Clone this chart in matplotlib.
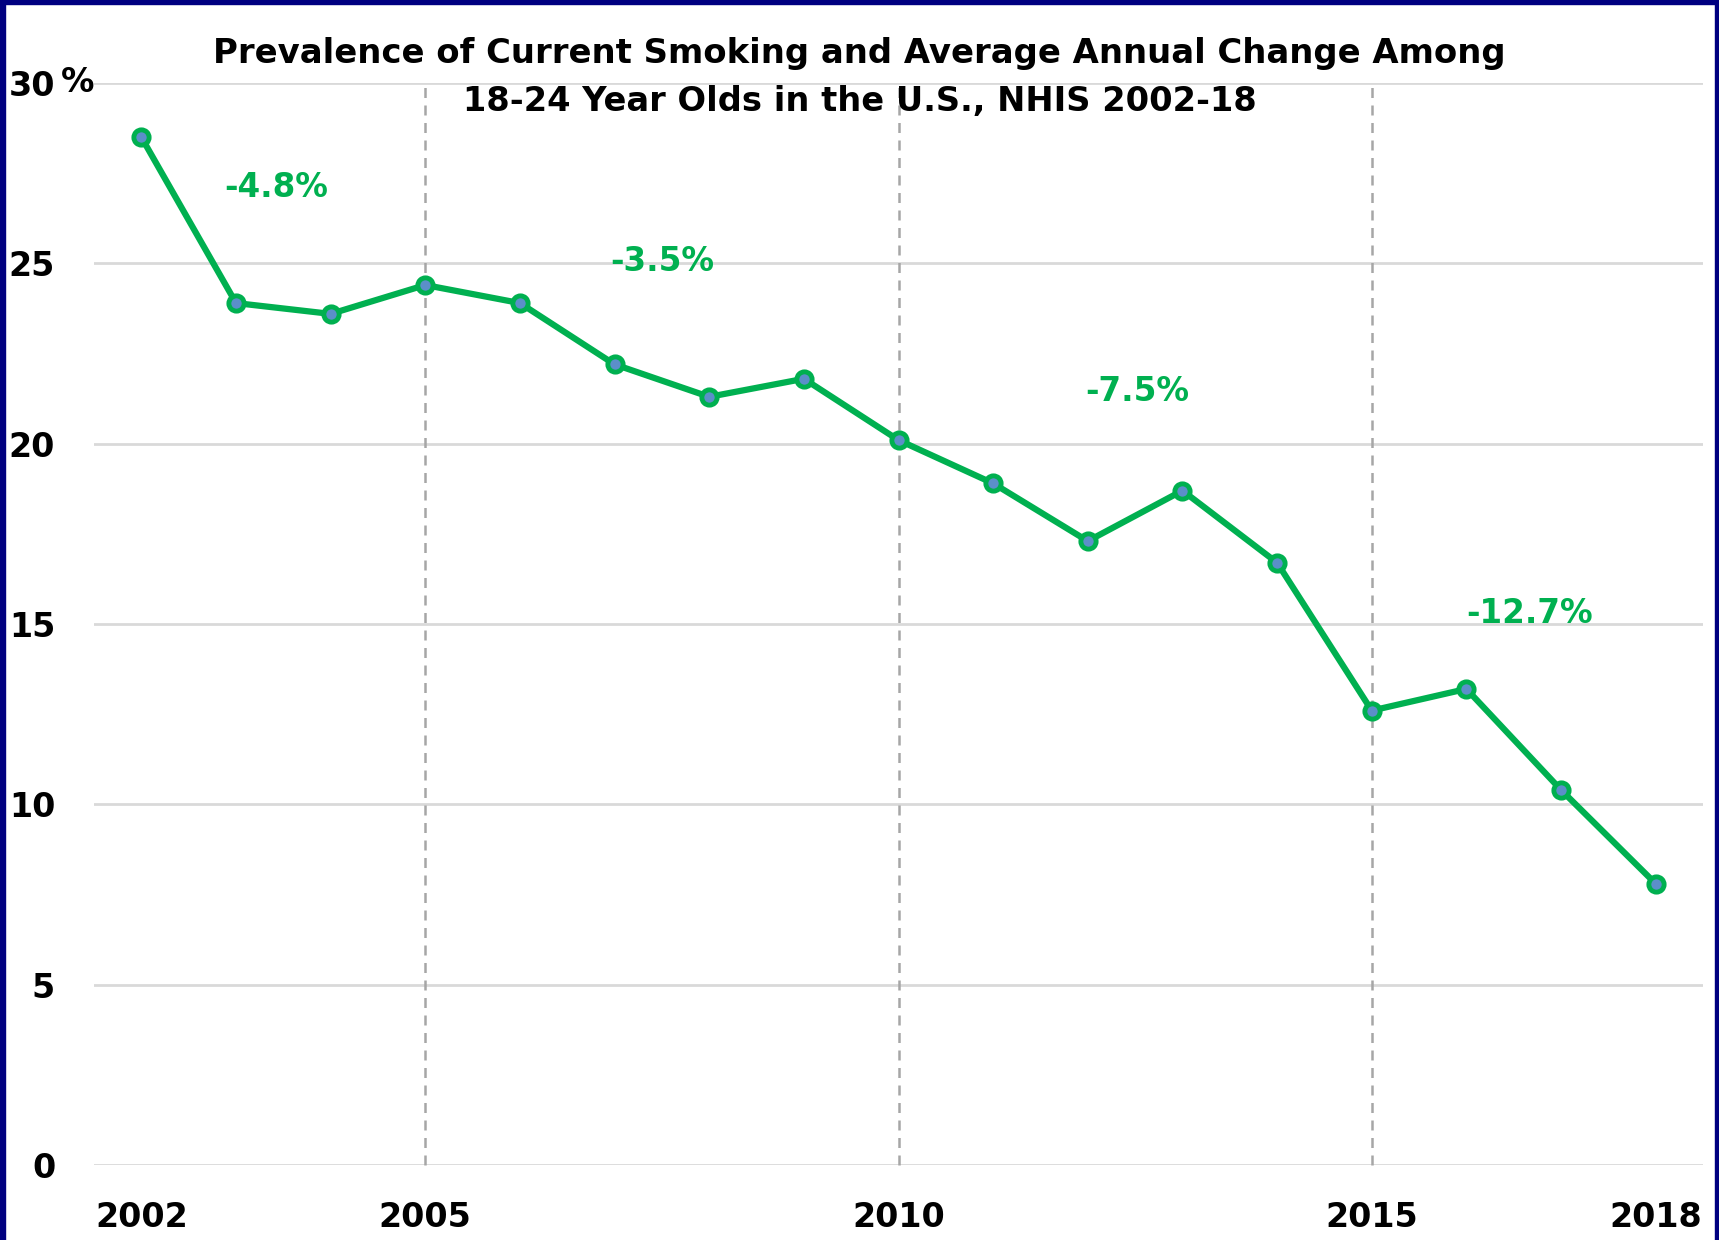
import numpy as np
import matplotlib.pyplot as plt
from matplotlib.patches import Rectangle

# --- dados ---
anos = [2002, 2003, 2004, 2005, 2006, 2007, 2008, 2009, 2010,
        2011, 2012, 2013, 2014, 2015, 2016, 2017, 2018]
prevalencia = [28.5, 23.9, 23.6, 24.4, 23.9, 22.2, 21.3, 21.8, 20.1,
               18.9, 17.3, 18.7, 16.7, 12.6, 13.2, 10.4, 7.8]

rotulos_mudanca = ["-4.8%", "-3.5%", "-7.5%", "-12.7%"]
x_mudanca = [2003.42, 2007.5, 2012.52, 2016.67]
y_mudanca = [27.1, 25.05, 21.45, 15.3]

anos_divisao = [2005, 2010, 2015]
ticks_x = [2002, 2005, 2010, 2015, 2018]
ticks_y = [0, 5, 10, 15, 20, 25, 30]

verde = "#00B050"
fonte = "DejaVu Sans"

fig = plt.figure(figsize=(17.19, 12.40), dpi=100)
ax = fig.add_axes([0.0547, 0.0605, 0.936, 0.8725])

for a in anos_divisao:
    ax.axvline(a, color="#a6a6a6", lw=1.8, ls=(0, (4, 3)), zorder=1, clip_on=False)

ax.plot(anos, prevalencia, color=verde, lw=4.5, marker="o", markersize=11,
        markerfacecolor="#5b8fc9", markeredgecolor=verde, markeredgewidth=3.5, zorder=3)

for txt, xx, yy in zip(rotulos_mudanca, x_mudanca, y_mudanca):
    ax.text(xx, yy, txt, color=verde, fontsize=23.5, fontweight="bold",
            family=fonte, ha="center", va="center", zorder=4)

ax.set_xlim(2001.5, 2018.5)
ax.set_ylim(0, 30)
ax.set_xticks(ticks_x)
ax.set_xticklabels([str(t) for t in ticks_x])
ax.set_yticks(ticks_y)
ax.set_yticklabels([str(t) for t in ticks_y])
ax.tick_params(axis="both", length=0, labelsize=24)
ax.tick_params(axis="y", pad=28)
ax.tick_params(axis="x", pad=26)
for lab in ax.get_xticklabels() + ax.get_yticklabels():
    lab.set_fontweight("bold")
    lab.set_family(fonte)

ax.grid(axis="y", color="#d9d9d9", lw=2)
ax.set_axisbelow(True)
for s in ax.spines.values():
    s.set_visible(False)

# % ao lado do 30
fig.text(0.0355, 0.9335, "%", fontsize=24, fontweight="bold", family=fonte,
         ha="left", va="center")

fig.text(0.5, 0.957, "Prevalence of Current Smoking and Average Annual Change Among",
         fontsize=24.4, fontweight="bold", family=fonte, ha="center", va="center", zorder=5)
fig.text(0.5, 0.918, "18-24 Year Olds in the U.S., NHIS 2002-18",
         fontsize=24.2, fontweight="bold", family=fonte, ha="center", va="center", zorder=5)

# borda azul
azul = "#000080"
fig.patches.append(Rectangle((0, 0), 0.003, 1, transform=fig.transFigure, color=azul))
fig.patches.append(Rectangle((0, 0.997), 1, 0.003, transform=fig.transFigure, color=azul))
fig.patches.append(Rectangle((0.9975, 0), 0.0025, 1, transform=fig.transFigure, color=azul))

fig.savefig("out.png", dpi=100)
